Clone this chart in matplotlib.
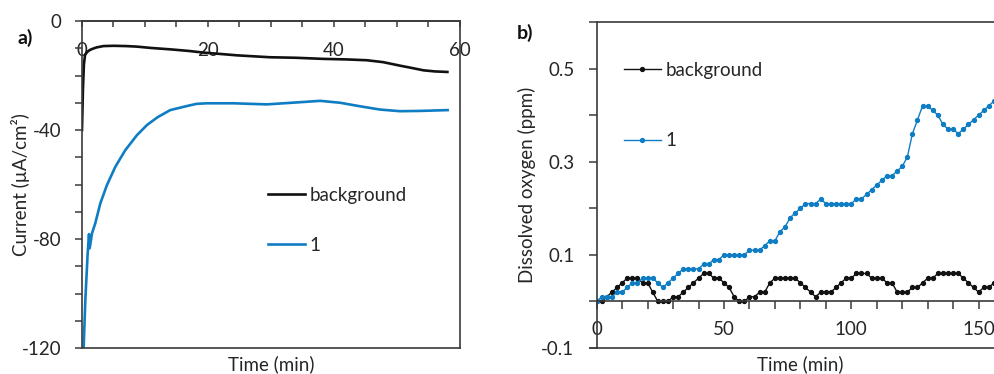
import matplotlib
matplotlib.use("Agg")
import matplotlib.pyplot as plt
from matplotlib.ticker import MultipleLocator, FixedLocator
from matplotlib.lines import Line2D

plt.rcParams['font.family'] = ['Lato', 'DejaVu Sans']
plt.rcParams['axes.unicode_minus'] = False

# ---------------- Panel a data ----------------
time_a_bg = [0.0, 0.15, 0.3, 0.48, 0.8, 1.27, 1.8, 2.3, 3.4, 5.0, 7.0, 8.7, 11.0,
             14.0, 17.0, 19.3, 22.0, 24.6, 29.8, 34.0, 38.3, 42.0, 45.2, 47.8,
             50.5, 52.5, 54.2, 56.0, 58.0]
current_bg = [-40.0, -25.0, -16.0, -12.5, -11.4, -10.6, -10.1, -9.7, -9.2, -9.1, -9.2,
              -9.4, -9.9, -10.4, -11.0, -11.6, -12.1, -12.6, -13.3, -13.5, -13.9,
              -14.1, -14.4, -15.1, -16.4, -17.3, -18.1, -18.5, -18.7]

time_a_1 = [0.26, 0.53, 0.9, 1.11, 1.22, 1.59, 2.11, 2.91, 3.96, 5.29, 6.87, 8.72,
            10.3, 12.0, 14.0, 16.65, 18.2, 19.82, 24.05, 29.34, 34.62, 37.8, 40.97,
            44.14, 47.31, 50.48, 53.66, 58.04]
current_1 = [-120.0, -102.3, -85.2, -78.2, -83.4, -77.9, -74.2, -66.9, -60.2, -53.5,
             -47.4, -41.9, -38.2, -35.3, -32.7, -31.2, -30.4, -30.2, -30.2, -30.6,
             -29.8, -29.3, -30.0, -31.3, -32.5, -33.1, -33.0, -32.7]

# ---------------- Panel b data ----------------
time_b = list(range(0, 158, 2))
do_bg = [0.00, 0.00, 0.01, 0.02, 0.03, 0.04, 0.05, 0.05, 0.05, 0.04,
         0.04, 0.02, 0.00, 0.00, 0.00, 0.01, 0.01, 0.02, 0.03, 0.04,
         0.05, 0.06, 0.06, 0.05, 0.05, 0.04, 0.03, 0.01, 0.00, 0.00,
         0.01, 0.01, 0.02, 0.02, 0.04, 0.05, 0.05, 0.05, 0.05, 0.05,
         0.04, 0.03, 0.02, 0.01, 0.02, 0.02, 0.02, 0.03, 0.04, 0.05,
         0.05, 0.06, 0.06, 0.06, 0.05, 0.05, 0.05, 0.04, 0.04, 0.02,
         0.02, 0.02, 0.03, 0.03, 0.04, 0.05, 0.05, 0.06, 0.06, 0.06,
         0.06, 0.06, 0.05, 0.04, 0.03, 0.02, 0.03, 0.03, 0.04]
do_1 = [0.00, 0.01, 0.01, 0.01, 0.02, 0.02, 0.03, 0.04, 0.04, 0.05,
        0.05, 0.05, 0.04, 0.03, 0.04, 0.05, 0.06, 0.07, 0.07, 0.07,
        0.07, 0.08, 0.08, 0.09, 0.09, 0.10, 0.10, 0.10, 0.10, 0.10,
        0.11, 0.11, 0.11, 0.12, 0.13, 0.13, 0.15, 0.16, 0.18, 0.19,
        0.20, 0.21, 0.21, 0.21, 0.22, 0.21, 0.21, 0.21, 0.21, 0.21,
        0.21, 0.22, 0.22, 0.23, 0.24, 0.25, 0.26, 0.27, 0.27, 0.28,
        0.29, 0.31, 0.36, 0.39, 0.42, 0.42, 0.41, 0.40, 0.38, 0.37,
        0.37, 0.36, 0.37, 0.38, 0.39, 0.40, 0.41, 0.42, 0.43]

labels = ['background', '1']
BLACK = '#111111'
BLUE = '#0E7DC4'
TXT = '#262626'
SPINE = '#3a3a3a'
FS = 13.5

W, H = 995, 374
fig = plt.figure(figsize=(W / 100, H / 100), dpi=100)

# ---------------- Panel a ----------------
axa = fig.add_axes([82 / W, (H - 348) / H, 378 / W, 327 / H])
axa.plot(time_a_bg, current_bg, color=BLACK, lw=1.9, solid_joinstyle='round')
axa.plot(time_a_1, current_1, color=BLUE, lw=1.9, solid_joinstyle='round')
axa.set_xlim(0, 60)
axa.set_ylim(-120, 0)
axa.spines['bottom'].set_position(('data', 0))
for s in axa.spines.values():
    s.set_color(SPINE)
    s.set_linewidth(1.2)
axa.plot([0, 1], [0, 0], transform=axa.transAxes, color=SPINE, lw=1.2, clip_on=False)
axa.xaxis.set_major_locator(MultipleLocator(20))
axa.xaxis.set_minor_locator(MultipleLocator(5))
axa.yaxis.set_major_locator(FixedLocator([-120, -80, -40, 0]))
axa.yaxis.set_minor_locator(MultipleLocator(10))
axa.tick_params(axis='x', which='both', direction='out', length=4, width=1.1,
                color=SPINE, labelsize=FS, labelcolor=TXT, pad=11)
axa.tick_params(axis='y', which='both', direction='out', length=5, width=1.1,
                color=SPINE, labelsize=FS, labelcolor=TXT, pad=10)
axa.set_xlabel('Time (min)', fontsize=FS, color=TXT)
axa.xaxis.set_label_coords(0.5, -0.021)
axa.xaxis.label.set_va('top')
axa.set_ylabel('Current (µA/cm²)', fontsize=FS, color=TXT)
axa.yaxis.set_label_coords(-0.137, 0.5)
handles_a = [Line2D([], [], color=BLACK, lw=1.9), Line2D([], [], color=BLUE, lw=1.9)]
axa.legend(handles_a, labels, loc='upper left', bbox_to_anchor=(268 / W, (H - 187) / H),
           bbox_transform=fig.transFigure, frameon=False, fontsize=FS,
           handlelength=1.95, handletextpad=0.25, labelspacing=1.75,
           borderpad=0, borderaxespad=0, labelcolor=TXT)
fig.text(18 / W, (H - 38) / H, 'a)', fontsize=14, fontweight='bold', color=BLACK, va='center')

# ---------------- Panel b ----------------
px_per_min = 127.3 / 50
axb = fig.add_axes([596.7 / W, (H - 348) / H, 160 * px_per_min / W, 326 / H])
axb.plot(time_b, do_bg, color=BLACK, lw=1.0, marker='o', ms=2.8, mec=BLACK, mfc=BLACK)
axb.plot(time_b, do_1, color=BLUE, lw=1.0, marker='o', ms=2.8, mec=BLUE, mfc=BLUE)
axb.set_xlim(0, 160)
axb.set_ylim(-0.1, 0.6)
axb.spines['bottom'].set_position(('data', 0))
for s in axb.spines.values():
    s.set_color(SPINE)
    s.set_linewidth(1.2)
axb.plot([0, 1], [0, 0], transform=axb.transAxes, color=SPINE, lw=1.2, clip_on=False)
axb.plot([-7 / (160 * px_per_min), 0], [0, 0], transform=axb.transAxes, color=SPINE,
         lw=1.1, clip_on=False)
axb.xaxis.set_major_locator(MultipleLocator(50))
axb.xaxis.set_minor_locator(MultipleLocator(10))
axb.yaxis.set_major_locator(FixedLocator([-0.1, 0.1, 0.3, 0.5]))
axb.yaxis.set_minor_locator(FixedLocator([0.0, 0.2, 0.4, 0.6]))
axb.set_yticklabels(['-0.1', '0.1', '0.3', '0.5'])
axb.tick_params(axis='x', which='both', direction='out', length=6, width=1.1,
                color=SPINE, labelsize=FS, labelcolor=TXT, pad=8)
axb.tick_params(axis='y', which='both', direction='out', length=6, width=1.1,
                color=SPINE, labelsize=FS, labelcolor=TXT, pad=10)
axb.set_xlabel('Time (min)', fontsize=FS, color=TXT)
axb.xaxis.set_label_coords(0.5, -0.021)
axb.xaxis.label.set_va('top')
axb.set_ylabel('Dissolved oxygen (ppm)', fontsize=FS, color=TXT)
axb.yaxis.set_label_coords(-0.15, 0.5)
handles_b = [Line2D([], [], color=BLACK, lw=1.0, marker='o', ms=2.8),
             Line2D([], [], color=BLUE, lw=1.0, marker='o', ms=2.8)]
axb.legend(handles_b, labels, loc='upper left', bbox_to_anchor=(624 / W, (H - 62) / H),
           bbox_transform=fig.transFigure, frameon=False, fontsize=FS,
           handlelength=1.95, handletextpad=0.25, labelspacing=2.85, markerscale=1.0,
           borderpad=0, borderaxespad=0, labelcolor=TXT, numpoints=1)
fig.text(517 / W, (H - 33) / H, 'b)', fontsize=14, fontweight='bold', color=BLACK, va='center')

fig.savefig('out.png', dpi=100)
